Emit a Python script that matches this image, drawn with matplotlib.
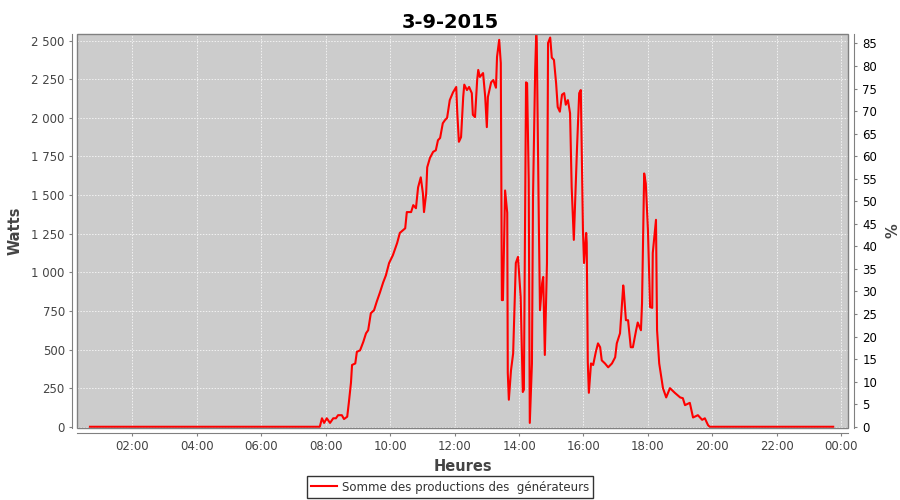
import matplotlib
matplotlib.use("Agg")
import matplotlib.pyplot as plt
from matplotlib.patches import Rectangle
from matplotlib.ticker import FuncFormatter, MultipleLocator

# Data (time of day, watts)
times = [
    "00:41", "07:49", "07:53", "07:57", "08:02", "08:08", "08:14", "08:19", "08:23", "08:30",
    "08:34", "08:40", "08:43", "08:47", "08:49", "08:55", "08:58", "09:04", "09:10", "09:15",
    "09:19", "09:24", "09:30", "09:35", "09:41", "09:47", "09:52", "09:58", "10:05", "10:13",
    "10:18", "10:28", "10:31", "10:39", "10:43", "10:48", "10:52", "10:57", "11:01", "11:03",
    "11:07", "11:09", "11:14", "11:20", "11:25", "11:29", "11:33", "11:38", "11:42", "11:46",
    "11:51", "11:57", "12:03", "12:05", "12:08", "12:12", "12:16", "12:18", "12:23", "12:27",
    "12:32", "12:34", "12:38", "12:42", "12:44", "12:47", "12:53", "12:57", "13:00", "13:02",
    "13:08", "13:12", "13:17", "13:19", "13:23", "13:26", "13:28", "13:30", "13:34", "13:38",
    "13:39", "13:41", "13:45", "13:49", "13:54", "13:58", "14:03", "14:07", "14:09", "14:13",
    "14:15", "14:18", "14:20", "14:24", "14:26", "14:30", "14:32", "14:33", "14:37", "14:39",
    "14:43", "14:45", "14:48", "14:52", "14:54", "14:58", "15:01", "15:05", "15:09", "15:12",
    "15:16", "15:20", "15:24", "15:27", "15:31", "15:35", "15:38", "15:42", "15:48", "15:52",
    "15:55", "15:59", "16:01", "16:05", "16:06", "16:08", "16:10", "16:14", "16:18", "16:23",
    "16:27", "16:31", "16:34", "16:40", "16:46", "16:53", "16:59", "17:02", "17:08", "17:14",
    "17:15", "17:19", "17:23", "17:28", "17:32", "17:38", "17:41", "17:47", "17:49", "17:53",
    "17:56", "18:00", "18:04", "18:08", "18:09", "18:15", "18:17", "18:21", "18:28", "18:34",
    "18:41", "18:50", "19:00", "19:05", "19:09", "19:18", "19:24", "19:33", "19:41", "19:46",
    "19:52", "19:55", "23:45",
]
watts = [
    0, 0, 55, 25, 55, 25, 55, 55, 75, 75,
    50, 65, 155, 285, 400, 410, 485, 495, 550, 605,
    625, 735, 755, 810, 870, 935, 980, 1060, 1110, 1190,
    1255, 1285, 1390, 1390, 1435, 1415, 1550, 1615, 1510, 1390,
    1510, 1680, 1740, 1780, 1790, 1855, 1870, 1965, 1985, 2000,
    2115, 2165, 2200, 2030, 1845, 1875, 2135, 2215, 2180, 2200,
    2160, 2020, 2005, 2245, 2310, 2265, 2290, 2135, 1940, 2135,
    2230, 2245, 2195, 2395, 2505, 2355, 820, 820, 1530, 1385,
    350, 175, 365, 475, 1060, 1100, 840, 225, 240, 2230,
    2225, 1595, 25, 410, 1490, 2310, 2540, 2485, 1275, 755,
    930, 970, 465, 1060, 2485, 2520, 2390, 2375, 2225, 2070,
    2040, 2150, 2160, 2085, 2115, 2030, 1550, 1210, 1810, 2160,
    2180, 1275, 1060, 1255, 1190, 420, 220, 410, 400, 485,
    540, 515, 430, 410, 385, 410, 450, 540, 605, 915,
    885, 690, 690, 515, 515, 625, 675, 625, 800, 1640,
    1575, 1275, 775, 770, 1125, 1340, 625, 410, 250, 190,
    250, 220, 190, 185, 140, 155, 60, 75, 45, 55,
    10, 0, 0,
]
hour_ticks = [2, 4, 6, 8, 10, 12, 14, 16, 18, 20, 22, 24]
hour_labels = ["02:00", "04:00", "06:00", "08:00", "10:00", "12:00",
               "14:00", "16:00", "18:00", "20:00", "22:00", "00:00"]
series_name = "Somme des productions des  générateurs"

hours = [int(t[:2]) + int(t[3:]) / 60 for t in times]

plt.rcParams["font.family"] = "DejaVu Sans"
fig = plt.figure(figsize=(9, 5), dpi=100)
ax = fig.add_axes([0.0859, 0.1446, 0.9426 - 0.0859, 0.9314 - 0.1446])
ax.set_facecolor("#cccccc")

ax.plot(hours, watts, color="red", linewidth=1.5, label=series_name, zorder=3)

ax.set_xlim(0.29, 24.22)
ax.set_ylim(-6, 2541)
ax.set_xticks(hour_ticks)
ax.set_xticklabels(hour_labels)
ax.yaxis.set_major_locator(MultipleLocator(250))
ax.yaxis.set_major_formatter(FuncFormatter(lambda v, p: f"{int(round(v)):,}".replace(",", " ")))
ax.grid(True, color="#f2f2f2", linestyle=(0, (1.5, 1.5)), linewidth=0.7)
ax.set_axisbelow(True)

# plot border plus offset axis lines, JFreeChart style
ax.add_patch(Rectangle((0, 0), 1, 1, transform=ax.transAxes, fill=False,
                       edgecolor="#808080", linewidth=1.0, zorder=4, clip_on=False))
ax.spines["top"].set_visible(False)
ax.spines["right"].set_visible(False)
for s in ["left", "bottom"]:
    ax.spines[s].set_position(("outward", 4))
    ax.spines[s].set_color("#808080")
ax.tick_params(axis="both", length=2, width=0.8, color="#808080",
               labelsize=8.5, labelcolor="#444444", pad=3)

ax.set_xlabel("Heures", fontsize=10.5, fontweight="bold", color="#444444", labelpad=4)
ax.set_ylabel("Watts", fontsize=10.5, fontweight="bold", color="#444444", labelpad=6)

ax2 = ax.twinx()
ax2.set_ylim(-6 / 29.2, 2541 / 29.2)
ax2.yaxis.set_major_locator(MultipleLocator(5))
for s in ["left", "top", "bottom"]:
    ax2.spines[s].set_visible(False)
ax2.spines["right"].set_position(("outward", 4))
ax2.spines["right"].set_color("#808080")
ax2.tick_params(axis="y", length=2, width=0.8, color="#808080",
                labelsize=8.5, labelcolor="black", pad=4)
ax2.set_ylabel("%", fontsize=10.5, fontweight="bold", color="#444444", labelpad=6)

leg = fig.legend(loc="center", bbox_to_anchor=(0.5, 0.026), fontsize=8.5,
                 frameon=True, fancybox=False, edgecolor="black",
                 handlelength=2.2, borderpad=0.35, handletextpad=0.4)
leg.get_frame().set_linewidth(1.0)
for t in leg.get_texts():
    t.set_color("#333333")

fig.suptitle("3-9-2015", fontsize=14, fontweight="bold", y=0.975)

fig.savefig("out.png", dpi=100)
